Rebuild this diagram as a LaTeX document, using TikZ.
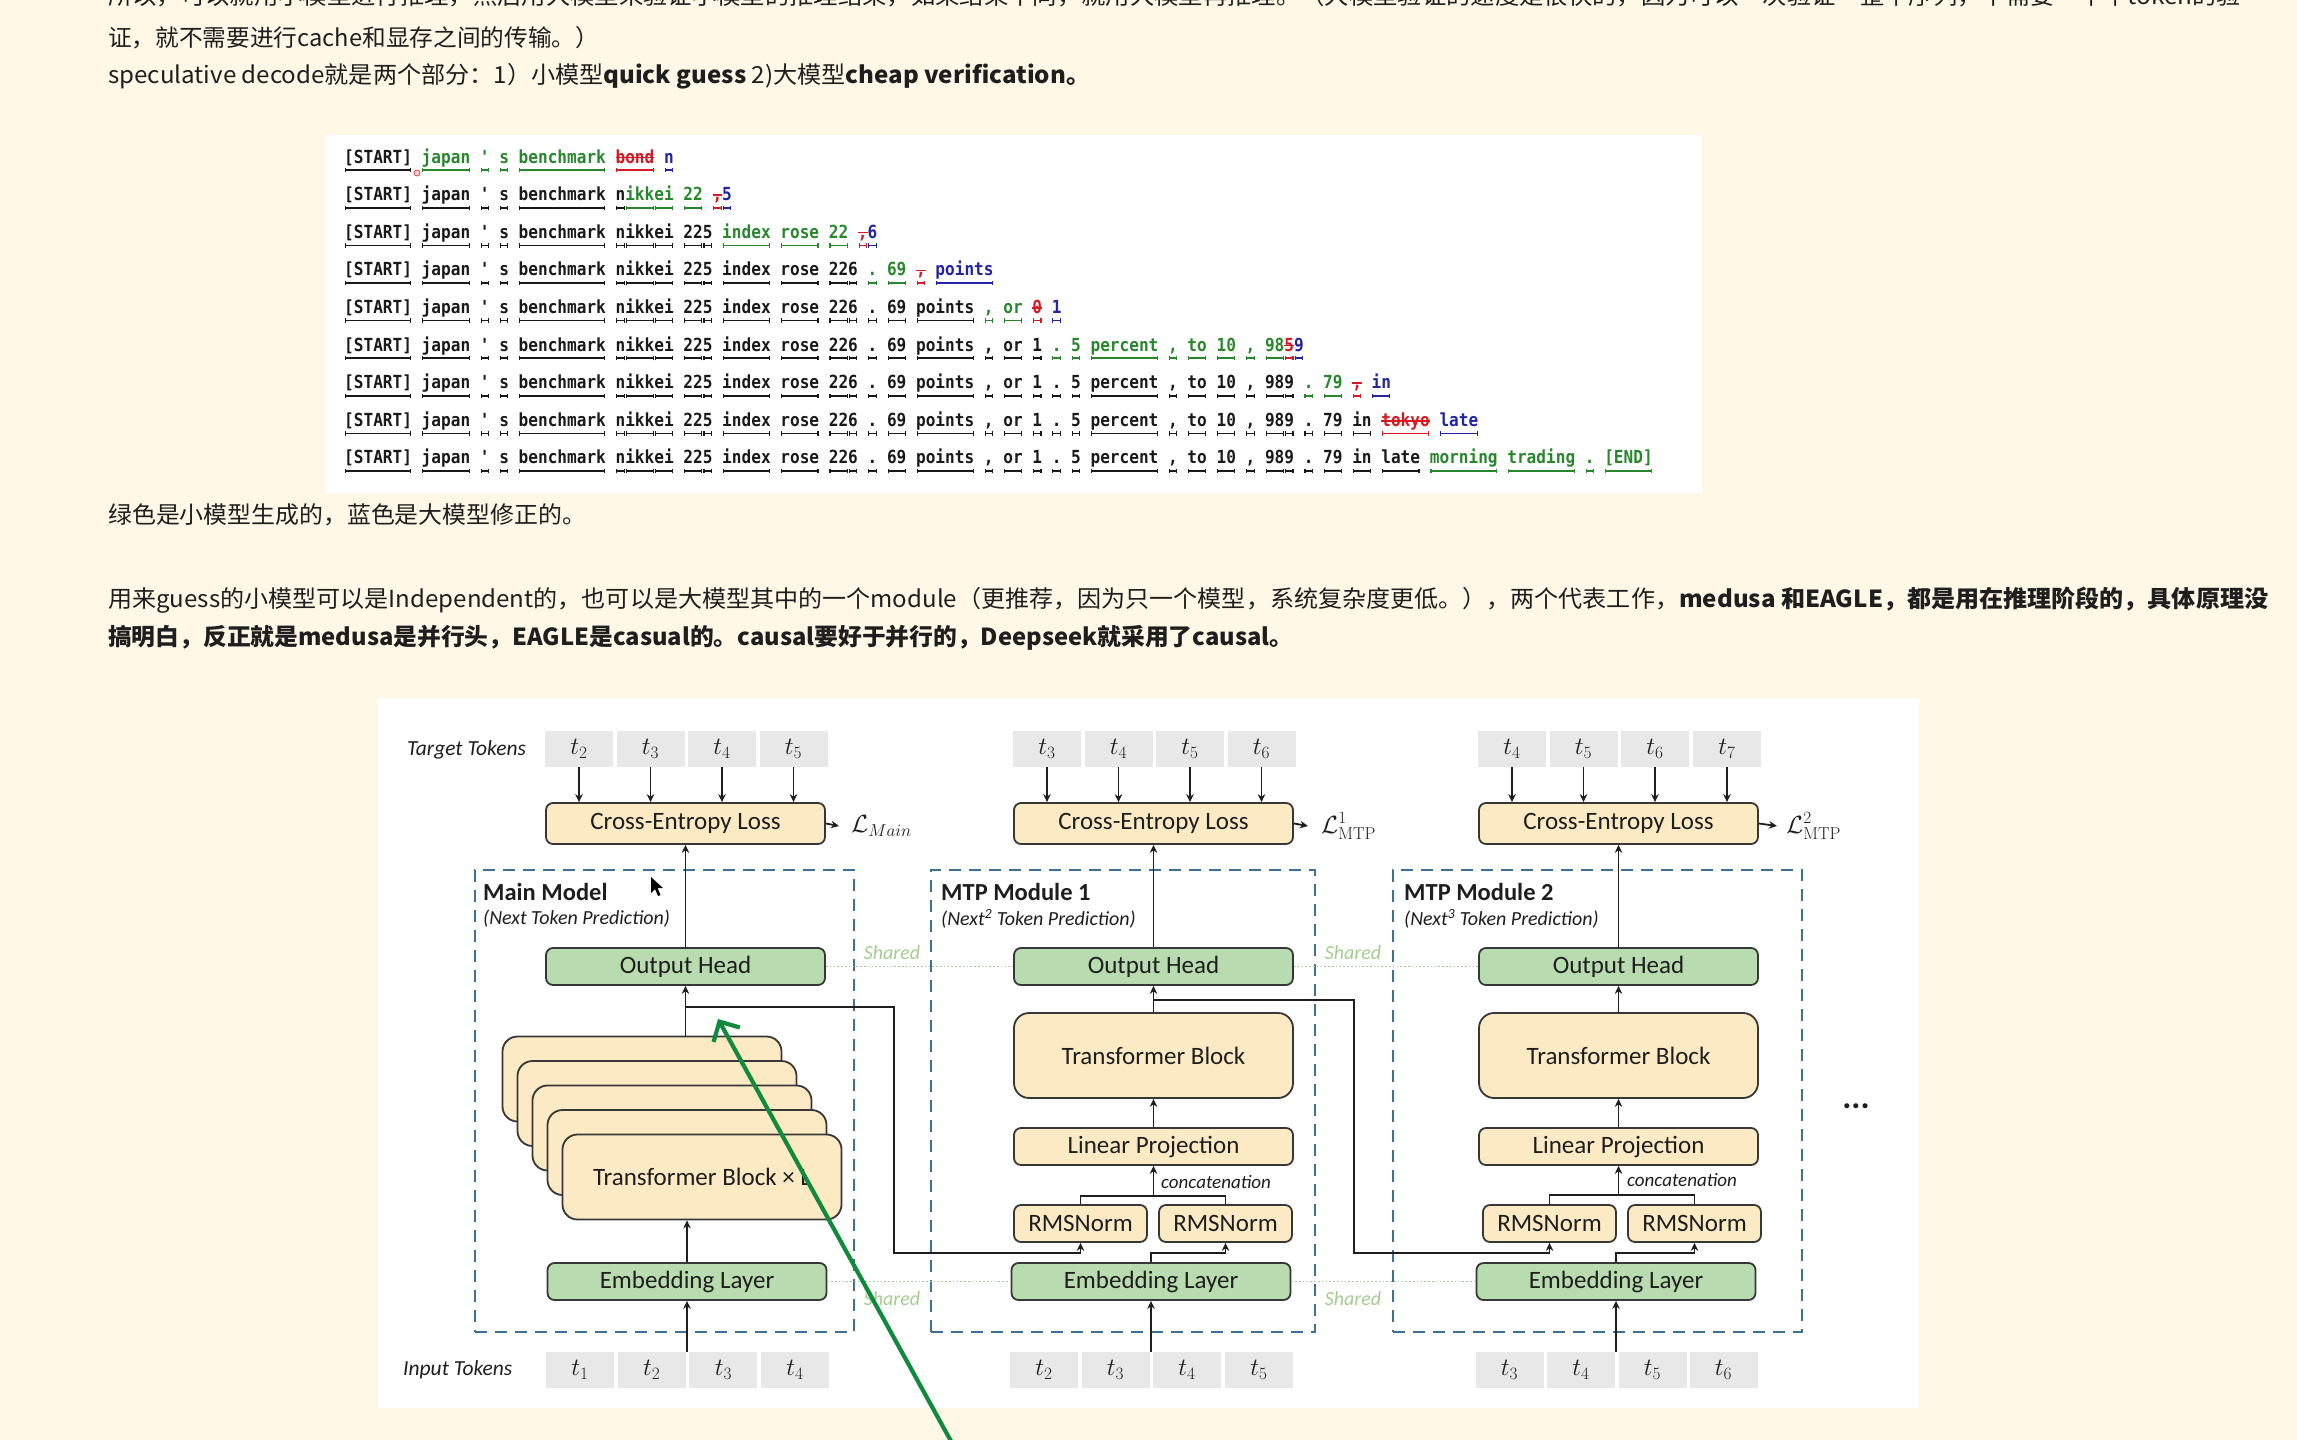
\documentclass[tikz,border=0pt]{standalone}
\usepackage[no-math]{fontspec}
\usepackage{graphicx}
\usetikzlibrary{arrows.meta}
\setmainfont{Carlito}
\newfontfamily\cjk{Noto Sans CJK SC}
\newfontfamily\tokfont{DejaVu Sans Mono}

\definecolor{cBg}{RGB}{255,248,231}
\definecolor{cTxt}{RGB}{30,30,30}
\definecolor{cOrange}{RGB}{252,234,197}
\definecolor{cGreen}{RGB}{184,220,176}
\definecolor{cBord}{RGB}{55,55,55}
\definecolor{cTok}{RGB}{232,232,232}
\definecolor{cDash}{RGB}{62,112,150}
\definecolor{cShare}{RGB}{165,205,145}
\definecolor{cLine}{RGB}{30,30,30}
\definecolor{cAnn}{RGB}{18,138,60}
\definecolor{colK}{RGB}{25,25,25}
\definecolor{colG}{RGB}{40,135,45}
\definecolor{colR}{RGB}{215,25,35}
\definecolor{colB}{RGB}{35,35,165}

% token with a bracketed underline
\newcommand\utok[2]{%
  \setbox0=\hbox{\color{#1}#2}%
  \rlap{\color{#1}\hspace{0.6pt}\rule[-8.4pt]{1.1pt}{3.9pt}\rule[-7.1pt]{\dimexpr\wd0-3.4pt\relax}{1.4pt}\rule[-8.4pt]{1.1pt}{3.9pt}}%
  \box0\relax}
% rejected token: struck through
\newcommand\stok[2]{\rlap{\color{#1}\setbox0=\hbox{#2}\rule[4.2pt]{\wd0}{1.3pt}}\utok{#1}{#2}}
\newcommand\tK[1]{\utok{colK}{#1}}
\newcommand\tG[1]{\utok{colG}{#1}}
\newcommand\tB[1]{\utok{colB}{#1}}
\newcommand\tR[1]{\stok{colR}{#1}}
\newcommand\apos{\textquotesingle}
\newcommand\pfx{\tK{[START]} \tK{japan} \tK{\apos} \tK{s} \tK{benchmark} \tK{n}\tK{ikk}\tK{ei} \tK{22}\tK{5} \tK{index} \tK{rose} \tK{22}\tK{6}}
\newcommand\trow[1]{\scalebox{1}[1.12]{#1}}

\begin{document}
\begin{tikzpicture}[x=1pt, y=-1pt,
  blk/.style={draw=cBord, line width=1.8pt, rounded corners=7pt, inner sep=0pt, text=cTxt, font=\fontsize{25}{30}\selectfont},
  ob/.style={blk, fill=cOrange},
  gb/.style={blk, fill=cGreen},
  wide/.style={minimum width=279pt, minimum height=37pt},
  tbk/.style={minimum width=279pt, minimum height=85pt, rounded corners=15pt},
  rms/.style={minimum width=133pt, minimum height=37pt},
  tkn/.style={fill=cTok, inner sep=0pt, minimum width=68pt, minimum height=36pt, text=cTxt, font=\fontsize{25}{30}\selectfont},
  arr/.style={draw=cLine, line width=1.8pt, -{Stealth[length=8pt, width=7.5pt]}},
  wire/.style={draw=cLine, line width=1.8pt},
  dbox/.style={draw=cDash, line width=2.6pt, dash pattern=on 12pt off 8pt, inner sep=0pt},
  shr/.style={draw=cShare, line width=1.8pt, dash pattern=on 1.6pt off 2.2pt},
  shtxt/.style={text=cShare, font=\itshape\fontsize{20}{24}\selectfont, inner sep=0pt},
  lbl/.style={anchor=west, inner sep=0pt, text=cTxt},
  para/.style={anchor=west, inner sep=0pt, text=cTxt, font=\cjk\fontsize{23.5}{28}\selectfont},
  tokrow/.style={anchor=base west, inner sep=0pt, font=\tokfont\bfseries\fontsize{16.1}{18}\selectfont},
  garr/.style={draw=cAnn, line width=4.2pt, line cap=round, -{Straight Barb[length=15pt, width=30pt, line width=4.2pt]}}
]
\useasboundingbox (0,0) rectangle (2297,1440);
\clip (0,0) rectangle (2297,1440);
\fill[cBg] (0,0) rectangle (2297,1440);

% ---------- notes above ----------
\node[para] (txt1) at (108,-4) {\resizebox{2133pt}{\height}{所以，可以就用小模型进行推理，然后用大模型来验证小模型的推理结果，如果结果不同，就用大模型再推理。（大模型验证的速度是很快的，因为可以一次验证一整个序列，不需要一个个token的验}};
\node[para] (txt2) at (108,38) {\resizebox{491pt}{\height}{证，就不需要进行cache和显存之间的传输。）}};
\node[para] (txt3) at (108,76) {\resizebox{982pt}{\height}{speculative decode就是两个部分：1）小模型{\bfseries quick guess} 2)大模型{\bfseries cheap verification。}}};

% ---------- token panel ----------
\fill[white] (326,135) rectangle (1702,493);
\node[tokrow] (r1) at (344,163) {\trow{\tK{[START]} \tG{japan} \tG{\apos} \tG{s} \tG{benchmark} \tR{bond} \tB{n}}};
\node[tokrow] (r2) at (344,200.6) {\trow{\tK{[START]} \tK{japan} \tK{\apos} \tK{s} \tK{benchmark} \tK{n}\tG{ikk}\tG{ei} \tG{22} \tR{,}\tB{5}}};
\node[tokrow] (r3) at (344,238.2) {\trow{\tK{[START]} \tK{japan} \tK{\apos} \tK{s} \tK{benchmark} \tK{n}\tK{ikk}\tK{ei} \tK{22}\tK{5} \tG{index} \tG{rose} \tG{22} \tR{,}\tB{6}}};
\node[tokrow] (r4) at (344,275.8) {\trow{\pfx{} \tG{.} \tG{69} \tR{,} \tB{points}}};
\node[tokrow] (r5) at (344,313.4) {\trow{\pfx{} \tK{.} \tK{69} \tK{points} \tG{,} \tG{or} \tR{0} \tB{1}}};
\node[tokrow] (r6) at (344,351) {\trow{\pfx{} \tK{.} \tK{69} \tK{points} \tK{,} \tK{or} \tK{1} \tG{.} \tG{5} \tG{percent} \tG{,} \tG{to} \tG{10} \tG{,} \tG{98}\tR{5}\tB{9}}};
\node[tokrow] (r7) at (344,388.6) {\trow{\pfx{} \tK{.} \tK{69} \tK{points} \tK{,} \tK{or} \tK{1} \tK{.} \tK{5} \tK{percent} \tK{,} \tK{to} \tK{10} \tK{,} \tK{98}\tK{9} \tG{.} \tG{79} \tR{,} \tB{in}}};
\node[tokrow] (r8) at (344,426.2) {\trow{\pfx{} \tK{.} \tK{69} \tK{points} \tK{,} \tK{or} \tK{1} \tK{.} \tK{5} \tK{percent} \tK{,} \tK{to} \tK{10} \tK{,} \tK{98}\tK{9} \tK{.} \tK{79} \tK{in} \tR{tokyo} \tB{late}}};
\node[tokrow] (r9) at (344,463.8) {\trow{\pfx{} \tK{.} \tK{69} \tK{points} \tK{,} \tK{or} \tK{1} \tK{.} \tK{5} \tK{percent} \tK{,} \tK{to} \tK{10} \tK{,} \tK{98}\tK{9} \tK{.} \tK{79} \tK{in} \tK{late} \tG{morning} \tG{trading} \tG{.} \tG{[END]}}};
\draw[colR!80, fill=colR!20, line width=0.8pt] (417,173) circle (3pt);

% ---------- notes between ----------
\node[para] (txt4) at (108,515) {\resizebox{478pt}{\height}{绿色是小模型生成的，蓝色是大模型修正的。}};
\node[para] (txt5) at (108,600) {\resizebox{2160pt}{\height}{用来guess的小模型可以是Independent的，也可以是大模型其中的一个module（更推荐，因为只一个模型，系统复杂度更低。），两个代表工作，{\bfseries medusa 和EAGLE，都是用在推理阶段的，具体原理没}}};
\node[para] (txt6) at (108,638) {\resizebox{1185pt}{\height}{{\bfseries 搞明白，反正就是medusa是并行头，EAGLE是casual的。causal要好于并行的，Deepseek就采用了causal。}}};

% ---------- MTP figure ----------
\fill[white] (378,698) rectangle (1919,1408);

% module frames
\node[dbox, minimum width=379pt, minimum height=462pt] (mda) at (664.5,1101) {};
\node[dbox, minimum width=384pt, minimum height=462pt] (mdb) at (1123,1101) {};
\node[dbox, minimum width=409pt, minimum height=462pt] (mdc) at (1597.5,1101) {};

\node[lbl, font=\fontsize{21.5}{25}\selectfont\itshape] (tgt) at (407,750) {Target Tokens};
\node[lbl, font=\fontsize{21.5}{25}\selectfont\itshape] (inp) at (403,1370) {Input Tokens};

\node[lbl, font=\bfseries\fontsize{24.5}{28}\selectfont] (tma) at (483,892) {Main Model};
\node[lbl, font=\itshape\fontsize{20}{24}\selectfont] (sma) at (483,919) {(Next Token Prediction)};
\node[lbl, font=\bfseries\fontsize{24.5}{28}\selectfont] (tmb) at (941,892) {MTP Module 1};
\node[lbl, font=\itshape\fontsize{20}{24}\selectfont] (smb) at (941,919) {(Next\textsuperscript{2} Token Prediction)};
\node[lbl, font=\bfseries\fontsize{24.5}{28}\selectfont] (tmc) at (1404,892) {MTP Module 2};
\node[lbl, font=\itshape\fontsize{20}{24}\selectfont] (smc) at (1404,919) {(Next\textsuperscript{3} Token Prediction)};

% target and input tokens
\node[tkn] (ta1) at (579,749) {$t_2$};
\node[tkn] (ta2) at (650.5,749) {$t_3$};
\node[tkn] (ta3) at (722,749) {$t_4$};
\node[tkn] (ta4) at (793.5,749) {$t_5$};
\node[tkn] (tb1) at (1047,749) {$t_3$};
\node[tkn] (tb2) at (1118.5,749) {$t_4$};
\node[tkn] (tb3) at (1190,749) {$t_5$};
\node[tkn] (tb4) at (1261.5,749) {$t_6$};
\node[tkn] (tc1) at (1512,749) {$t_4$};
\node[tkn] (tc2) at (1583.5,749) {$t_5$};
\node[tkn] (tc3) at (1655,749) {$t_6$};
\node[tkn] (tc4) at (1727,749) {$t_7$};

\node[tkn] (ia1) at (580,1370) {$t_1$};
\node[tkn] (ia2) at (651.7,1370) {$t_2$};
\node[tkn] (ia3) at (723.4,1370) {$t_3$};
\node[tkn] (ia4) at (795,1370) {$t_4$};
\node[tkn] (ib1) at (1044,1370) {$t_2$};
\node[tkn] (ib2) at (1115.5,1370) {$t_3$};
\node[tkn] (ib3) at (1187,1370) {$t_4$};
\node[tkn] (ib4) at (1259,1370) {$t_5$};
\node[tkn] (ic1) at (1509.5,1370) {$t_3$};
\node[tkn] (ic2) at (1581,1370) {$t_4$};
\node[tkn] (ic3) at (1652.5,1370) {$t_5$};
\node[tkn] (ic4) at (1723.5,1370) {$t_6$};

% shared weights
\node[shtxt] (sh1) at (892,953) {Shared};
\node[shtxt] (sh2) at (1353,953) {Shared};
\node[shtxt] (sh3) at (892,1299) {Shared};
\node[shtxt] (sh4) at (1353,1299) {Shared};

% main model
\node[ob, wide, minimum height=41pt] (cea) at (685.5,823.5) {Cross-Entropy Loss};
\node[gb, wide] (oha) at (685.5,966.5) {Output Head};
\node[ob, tbk] (stk4) at (642,1079) {};
\node[ob, tbk] (stk3) at (657,1103.5) {};
\node[ob, tbk] (stk2) at (672,1128) {};
\node[ob, tbk] (stk1) at (687,1152.5) {};
\node[ob, tbk] (stk0) at (702,1177) {Transformer Block × L};
\node[gb, wide] (ema) at (687,1281.5) {Embedding Layer};
\node[lbl, font=\fontsize{25}{30}\selectfont] (la) at (851,826) {$\mathcal{L}_{Main}$};

% MTP module 1
\node[ob, wide, minimum height=41pt] (ceb) at (1153.5,823.5) {Cross-Entropy Loss};
\node[gb, wide] (ohb) at (1153.5,966.5) {Output Head};
\node[ob, tbk] (tbb) at (1153.5,1055.5) {Transformer Block};
\node[ob, wide] (lpb) at (1153.5,1146.5) {Linear Projection};
\node[ob, rms] (rmsb1) at (1080.5,1223.5) {RMSNorm};
\node[ob, rms] (rmsb2) at (1225.5,1223.5) {RMSNorm};
\node[gb, wide] (emb) at (1151,1281.5) {Embedding Layer};
\node[lbl, font=\itshape\fontsize{19}{23}\selectfont] (ccb) at (1161,1182) {concatenation};
\node[lbl, font=\fontsize{25}{30}\selectfont] (lb) at (1321,826) {$\mathcal{L}^{1}_{\mathrm{MTP}}$};

% MTP module 2
\node[ob, wide, minimum height=41pt] (cec) at (1618.5,823.5) {Cross-Entropy Loss};
\node[gb, wide] (ohc) at (1618.5,966.5) {Output Head};
\node[ob, tbk] (tbc) at (1618.5,1055.5) {Transformer Block};
\node[ob, wide] (lpc) at (1618.5,1146.5) {Linear Projection};
\node[ob, rms] (rmsc1) at (1549.5,1223.5) {RMSNorm};
\node[ob, rms] (rmsc2) at (1694.5,1223.5) {RMSNorm};
\node[gb, wide] (emc) at (1616,1281.5) {Embedding Layer};
\node[lbl, font=\itshape\fontsize{19}{23}\selectfont] (ccc) at (1627,1180) {concatenation};
\node[lbl, font=\fontsize{25}{30}\selectfont] (lc) at (1786,826) {$\mathcal{L}^{2}_{\mathrm{MTP}}$};

\node[font=\bfseries\fontsize{34}{38}\selectfont, text=cTxt, inner sep=0pt] (more) at (1856,1106) {...};

% shared dotted links
\draw[shr] (oha.east) -- (ohb.west);
\draw[shr] (ohb.east) -- (ohc.west);
\draw[shr] (ema.east) -- (emb.west);
\draw[shr] (emb.east) -- (emc.west);

% targets into the losses
\foreach \t/\c in {ta1/cea, ta2/cea, ta3/cea, ta4/cea, tb1/ceb, tb2/ceb, tb3/ceb, tb4/ceb, tc1/cec, tc2/cec, tc3/cec, tc4/cec}
  \draw[arr] (\t.south) -- (\t.south |- \c.north);
\draw[arr] (cea.east) -- ([xshift=-12pt]la.west);
\draw[arr] (ceb.east) -- ([xshift=-13pt]lb.west);
\draw[arr] (cec.east) -- ([xshift=-9pt]lc.west);

% main model flow
\draw[arr] (ema.south |- ia1.north) -- (ema.south);
\draw[arr] (ema.north) -- (ema.north |- stk0.south);
\draw[arr] (oha.south |- stk4.north) -- (oha.south);
\draw[arr] (oha.north) -- (cea.south);
\coordinate (ja) at (685.5,1007);
\coordinate (ca1) at (894,1007);
\coordinate (ca2) at (894,1253);
\draw[arr] (ja) -- (ca1) -- (ca2) -| (rmsb1.south);

% module 1 flow
\draw[arr] (emb.south |- ib1.north) -- (emb.south);
\draw[arr] (emb.north) -- (emb.north |- ca2) -| (rmsb2.south);
\coordinate (jb) at (1153.5,1196);
\draw[wire] (rmsb1.north) -- (rmsb1.north |- jb) -- (rmsb2.north |- jb) -- (rmsb2.north);
\draw[arr] (jb) -- (lpb.south);
\draw[arr] (lpb.north) -- (tbb.south);
\draw[arr] (tbb.north) -- (ohb.south);
\draw[arr] (ohb.north) -- (ceb.south);
\coordinate (jb2) at (1153.5,1000);
\coordinate (cb1) at (1354,1000);
\coordinate (cb2) at (1354,1253);
\draw[arr] (jb2) -- (cb1) -- (cb2) -| (rmsc1.south);

% module 2 flow
\draw[arr] (emc.south |- ic1.north) -- (emc.south);
\draw[arr] (emc.north) -- (emc.north |- cb2) -| (rmsc2.south);
\coordinate (jc) at (1618.5,1195);
\draw[wire] (rmsc1.north) -- (rmsc1.north |- jc) -- (rmsc2.north |- jc) -- (rmsc2.north);
\draw[arr] (jc) -- (lpc.south);
\draw[arr] (lpc.north) -- (tbc.south);
\draw[arr] (tbc.north) -- (ohc.south);
\draw[arr] (ohc.north) -- (cec.south);

% pointer
\fill[black] (651,877) -- (651,893) -- (655,889) -- (658,896) -- (660.5,895) -- (657.5,888) -- (663,888) -- cycle;

% hand-drawn green arrow
\coordinate (gtail) at (957,1452);
\coordinate (ghead) at (718,1019);
\draw[garr] (gtail) -- (ghead);
\end{tikzpicture}
\end{document}
